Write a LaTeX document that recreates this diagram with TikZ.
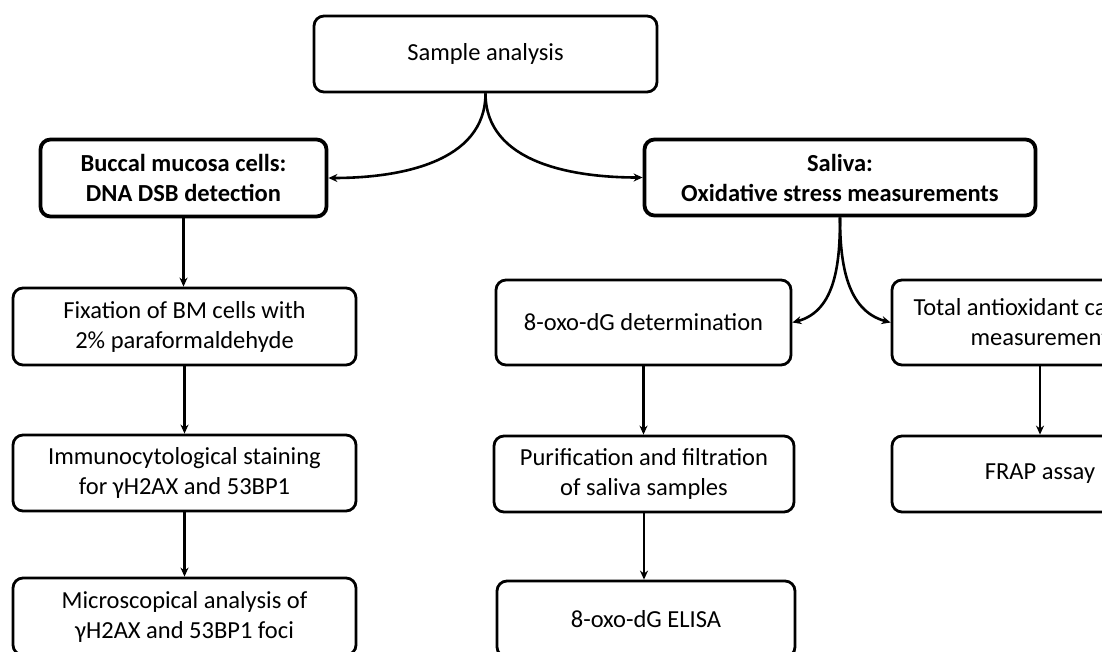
\documentclass[tikz,border=0pt]{standalone}
\usepackage{fontspec}
\setmainfont{Carlito}
\usetikzlibrary{arrows.meta}

\begin{document}
\begin{tikzpicture}[x=1pt,y=-1pt,
  box/.style={draw, line width=2.8pt, rounded corners=10pt, align=center,
    inner sep=0pt, font=\fontsize{24.5}{30}\selectfont},
  boldbox/.style={box, line width=3.8pt, font=\fontsize{24.5}{30}\selectfont\bfseries},
  link/.style={line width=2.6pt, -{Stealth[length=9pt,width=8pt]}}]
\useasboundingbox (0,0) rectangle (1102,652);
\clip (0,0) rectangle (1102,652);

% top
\node[box, minimum width=343pt, minimum height=76pt] (sample) at (485.5,54) {Sample analysis};
\node[boldbox, minimum width=286pt, minimum height=77pt] (buccal) at (183.5,178) {Buccal mucosa cells:\\DNA DSB detection};
\node[boldbox, minimum width=391pt, minimum height=76pt] (saliva) at (840,177.5) {Saliva:\\Oxidative stress measurements};

% buccal mucosa cells
\node[box, minimum width=343pt, minimum height=77pt] (fixation) at (184.5,326.5) {Fixation of BM cells with\\2\% paraformaldehyde};
\node[box, minimum width=343pt, minimum height=76pt] (staining) at (184.5,473) {Immunocytological staining\\for γH2AX and 53BP1};
\node[box, minimum width=343pt, minimum height=77pt] (microscopy) at (184.5,616.5) {Microscopical analysis of\\γH2AX and 53BP1 foci};

% saliva
\node[box, minimum width=295pt, minimum height=85pt] (oxodg) at (643.5,322.5) {8-oxo-dG determination};
\node[box, minimum width=300pt, minimum height=76pt] (purification) at (644,474) {Purification and filtration\\of saliva samples};
\node[box, minimum width=298pt, minimum height=76pt] (elisa) at (646,619) {8-oxo-dG ELISA};
\node[box, minimum width=296pt, minimum height=85pt] (antiox) at (1040,322.5) {Total antioxidant capacity\\measurement};
\node[box, minimum width=296pt, minimum height=76pt] (frap) at (1040,474) {FRAP assay};

\draw[link] (sample.south) to[out=-90,in=0] (buccal.east);
\draw[link] (sample.south) to[out=-90,in=180] (saliva.west);

\draw[link] (buccal.south) -- (fixation.north -| buccal.south);
\draw[link] (fixation) -- (staining);
\draw[link] (staining) -- (microscopy);

\draw[link] (saliva.south) to[out=-90,in=15] (oxodg.east);
\draw[link] (saliva.south) to[out=-90,in=165] (antiox.west);
\draw[link] (oxodg) -- (purification.north -| oxodg.south);
\draw[link] (purification) -- (elisa.north -| purification.south);
\draw[link] (antiox) -- (frap);
\end{tikzpicture}
\end{document}
